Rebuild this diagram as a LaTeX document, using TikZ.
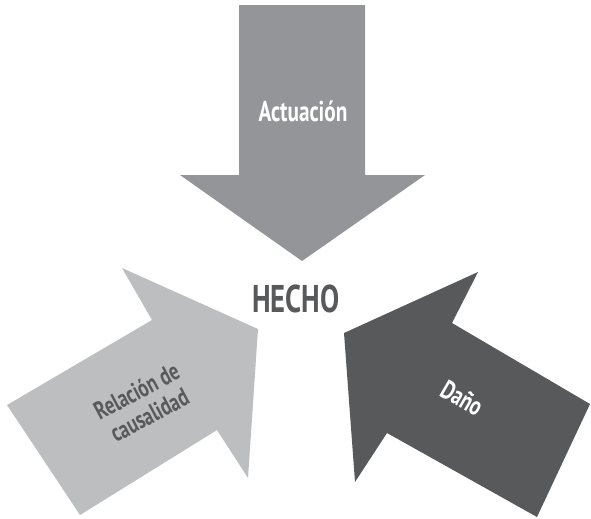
\documentclass[tikz,border=0pt]{standalone}
\usepackage{fontspec}
\setmainfont{PT Sans}[FakeStretch=0.74]
\definecolor{armmid}{HTML}{939598}
\definecolor{armlight}{HTML}{BCBEC0}
\definecolor{armdark}{HTML}{58595B}
\begin{document}
\begin{tikzpicture}[x=0.75pt,y=-0.75pt,
  label/.style={font=\bfseries, align=center, inner sep=0pt},
]
\useasboundingbox (0,0) rectangle (591,518);

% top arrow: Actuacion
\fill[armmid] (239,5) -- (365,5) -- (365,175) -- (425,175) -- (302,261)
  -- (180,175) -- (239,175) -- cycle;
% left arrow: Relacion de causalidad
\fill[armlight] (7,405) -- (152,320) -- (122,268) -- (258,329)
  -- (248,478) -- (217,430) -- (80,515) -- cycle;
% right arrow: Dano
\fill[armdark] (590,404) -- (452,323) -- (478,272) -- (344,333)
  -- (355,482) -- (387,433) -- (537,517) -- cycle;

\node[label, text=armdark, font=\bfseries\fontsize{29}{32}\selectfont] (hecho) at (296,299) {HECHO};
\node[label, text=white, font=\bfseries\fontsize{21.5}{24}\selectfont] (actuacion) at (303,111) {Actuación};
\node[label, text=armdark, rotate=28, font=\bfseries\fontsize{19}{20.5}\selectfont] (relacion) at (143,403) {Relación de\\causalidad};
\node[label, text=white, rotate=-30, font=\bfseries\fontsize{20}{22}\selectfont] (dano) at (462,398) {Daño};
\end{tikzpicture}
\end{document}
